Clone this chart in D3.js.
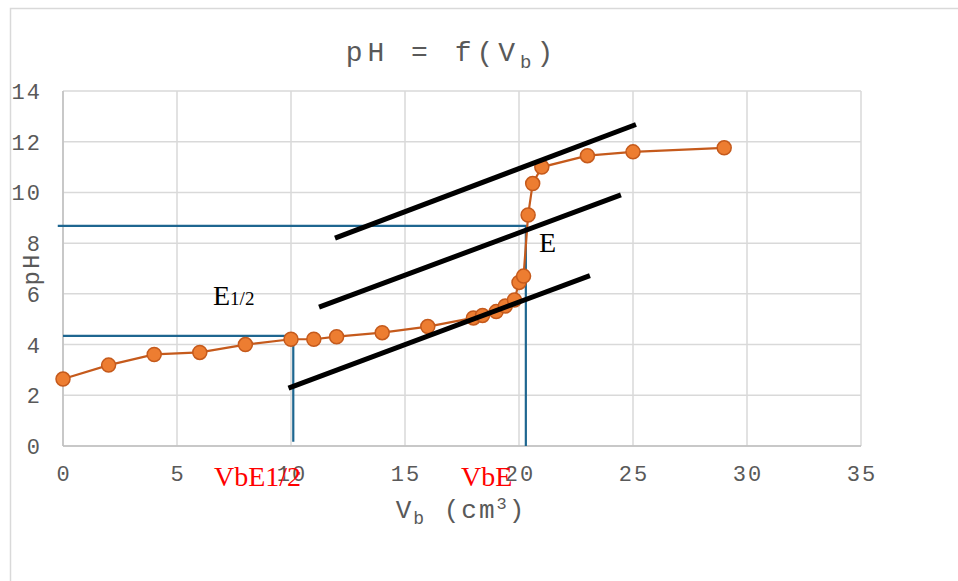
<!DOCTYPE html>
<html>
<head>
<meta charset="utf-8">
<script src="https://cdn.jsdelivr.net/npm/d3@7"></script>
<style>
  body { margin: 0; background: #fff; }
  text { font-family: "Liberation Mono", monospace; }
  text.serif { font-family: "Liberation Serif", serif; }
</style>
</head>
<body>
<script>
// titration data
var vb = [0, 2, 4, 6, 8, 10, 11, 12, 14, 16, 18, 18.4, 19, 19.4, 19.8, 20, 20.2, 20.4, 20.6, 21, 23, 25, 29];
var ph = [2.64, 3.19, 3.61, 3.69, 4.0, 4.21, 4.21, 4.31, 4.47, 4.71, 5.05, 5.15, 5.3, 5.52, 5.76, 6.45, 6.7, 9.11, 10.35, 11.0, 11.45, 11.6, 11.76];

var xTicks = [0, 5, 10, 15, 20, 25, 30, 35];
var yTicks = [0, 2, 4, 6, 8, 10, 12, 14];

// parallel tangents method: three black lines [start, end]
var tangents = [
    [[11.93, 8.2], [25.13, 12.68]],
    [[11.23, 5.48], [24.47, 9.9]],
    [[9.89, 2.28], [23.11, 6.72]]
];

// equivalence point and half equivalence
var ptE = [20.3, 8.68];
var ptHalf = [10.1, 4.34];

var svg = d3.select("body").append("svg")
    .attr("width", 958)
    .attr("height", 581);

// chart frame
svg.append("rect")
    .attr("x", 10.5).attr("y", 8.5)
    .attr("width", 980).attr("height", 620)
    .attr("fill", "none")
    .attr("stroke", "#d9d9d9")
    .attr("stroke-width", 1.5);

var x = d3.scaleLinear().domain([0, 35]).range([63, 861]);
var y = d3.scaleLinear().domain([0, 14]).range([446, 91]);

// grid
svg.append("g").selectAll("line").data(xTicks).enter().append("line")
    .attr("x1", d => x(d)).attr("x2", d => x(d))
    .attr("y1", y(0)).attr("y2", y(14))
    .attr("stroke", "#d9d9d9").attr("stroke-width", 1.5);
svg.append("g").selectAll("line").data(yTicks).enter().append("line")
    .attr("x1", x(0)).attr("x2", x(35))
    .attr("y1", d => y(d)).attr("y2", d => y(d))
    .attr("stroke", "#d9d9d9").attr("stroke-width", 1.5);

// axis lines
svg.append("line")
    .attr("x1", x(0)).attr("x2", x(35)).attr("y1", y(0)).attr("y2", y(0))
    .attr("stroke", "#bfbfbf").attr("stroke-width", 1.5);
svg.append("line")
    .attr("x1", x(0)).attr("x2", x(0)).attr("y1", y(0)).attr("y2", y(14))
    .attr("stroke", "#bfbfbf").attr("stroke-width", 1.5);

// tick labels
svg.append("g").selectAll("text").data(xTicks).enter().append("text")
    .attr("x", d => x(d) + 1)
    .attr("y", 481)
    .attr("text-anchor", "middle")
    .attr("font-size", 22)
    .attr("letter-spacing", 2)
    .attr("fill", "#595959")
    .text(d => d);
svg.append("g").selectAll("text").data(yTicks).enter().append("text")
    .attr("x", 42)
    .attr("y", d => y(d) + 8)
    .attr("text-anchor", "end")
    .attr("font-size", 22)
    .attr("letter-spacing", 2)
    .attr("fill", "#595959")
    .text(d => d);

// title
var title = svg.append("text")
    .attr("x", 452).attr("y", 61)
    .attr("text-anchor", "middle")
    .attr("font-size", 28)
    .attr("letter-spacing", 5)
    .attr("fill", "#595959");
title.append("tspan").text("pH = f(V");
title.append("tspan").attr("font-size", 19).attr("dy", 7).text("b");
title.append("tspan").attr("dy", -7).text(")");

// axis titles
var xt = svg.append("text")
    .attr("x", 461).attr("y", 518)
    .attr("text-anchor", "middle")
    .attr("font-size", 26)
    .attr("letter-spacing", 2)
    .attr("fill", "#595959");
xt.append("tspan").text("V");
xt.append("tspan").attr("font-size", 18).attr("dy", 6).text("b");
xt.append("tspan").attr("dy", -6).text(" (cm");
xt.append("tspan").attr("font-size", 17).attr("dy", -9).text("3");
xt.append("tspan").attr("dy", 9).text(")");

svg.append("text")
    .attr("transform", "translate(39,269) rotate(-90)")
    .attr("text-anchor", "middle")
    .attr("font-size", 24)
    .attr("letter-spacing", 2)
    .attr("fill", "#595959")
    .text("pH");

// blue guide lines
var blue = "#1e6690";
svg.append("path")
    .attr("d", d3.line()([[x(-0.23), y(ptE[1])], [x(ptE[0]), y(ptE[1])], [x(ptE[0]), y(0)]]))
    .attr("fill", "none").attr("stroke", blue).attr("stroke-width", 2.2);
svg.append("path")
    .attr("d", d3.line()([[x(0), y(ptHalf[1])], [x(ptHalf[0]), y(ptHalf[1])], [x(ptHalf[0]), y(0.17)]]))
    .attr("fill", "none").attr("stroke", blue).attr("stroke-width", 2.2);

// series
var pts = vb.map((v, i) => [v, ph[i]]);
svg.append("path")
    .attr("d", d3.line().x(d => x(d[0])).y(d => y(d[1]))(pts))
    .attr("fill", "none")
    .attr("stroke", "#c55a1c")
    .attr("stroke-width", 2.2);
svg.append("g").selectAll("circle").data(pts).enter().append("circle")
    .attr("cx", d => x(d[0]))
    .attr("cy", d => y(d[1]))
    .attr("r", 7)
    .attr("fill", "#ed7d31")
    .attr("stroke", "#c55a1c")
    .attr("stroke-width", 1.5);

// tangents
svg.append("g").selectAll("line").data(tangents).enter().append("line")
    .attr("x1", d => x(d[0][0])).attr("y1", d => y(d[0][1]))
    .attr("x2", d => x(d[1][0])).attr("y2", d => y(d[1][1]))
    .attr("stroke", "#000").attr("stroke-width", 5);

// annotations
svg.append("text").attr("class", "serif")
    .attr("x", 539).attr("y", 252)
    .attr("font-size", 28)
    .attr("fill", "#000")
    .text("E");
var eh = svg.append("text").attr("class", "serif")
    .attr("x", 213).attr("y", 305)
    .attr("font-size", 28)
    .attr("fill", "#000");
eh.append("tspan").text("E");
eh.append("tspan").attr("font-size", 19).text("1/2");

svg.append("text").attr("class", "serif")
    .attr("x", 214).attr("y", 486)
    .attr("font-size", 28)
    .attr("fill", "#ff0000")
    .text("VbE1/2");
svg.append("text").attr("class", "serif")
    .attr("x", 461).attr("y", 486)
    .attr("font-size", 28)
    .attr("fill", "#ff0000")
    .text("VbE");
</script>
</body>
</html>
